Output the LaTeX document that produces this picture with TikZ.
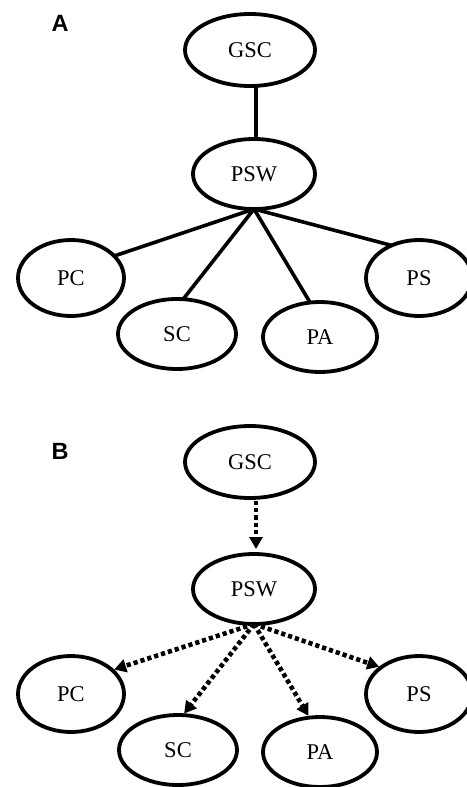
\documentclass[tikz,border=0pt]{standalone}
\usepackage{fontspec}
\setmainfont{Liberation Serif}
\newfontfamily\labfont{Liberation Sans}
\usetikzlibrary{shapes.geometric,arrows.meta}
\begin{document}
\begin{tikzpicture}[x=1pt,y=-1pt,
  ell/.style={ellipse, draw, line width=3.8pt, inner sep=0pt, outer sep=0pt, font=\fontsize{22.5}{24}\selectfont},
  panel/.style={font=\labfont\bfseries\fontsize{23.5}{26}\selectfont, inner sep=0pt},
  conn/.style={line width=3.6pt},
  dconn/.style={line width=4.6pt, dash pattern=on 4.2pt off 3pt,
     -{Triangle[length=12pt,width=13pt]}, shorten >=2pt}]
\useasboundingbox (0,0) rectangle (466,787);
% Panel A
\node[panel] (la) at (60,23) {A};
\node[ell, minimum width=130pt, minimum height=72pt] (gsc) at (250,50) {GSC};
\node[ell, minimum width=122pt, minimum height=70pt] (psw) at (254,174) {PSW};
\node[ell, minimum width=106pt, minimum height=76pt] (pc) at (71,278) {PC};
\node[ell, minimum width=118pt, minimum height=70pt] (sc) at (177,334) {SC};
\node[ell, minimum width=114pt, minimum height=70pt] (pa) at (320,337) {PA};
\node[ell, minimum width=106pt, minimum height=76pt] (ps) at (419,278) {PS};
\draw[conn] (gsc.south -| 256,0) -- (psw.north -| 256,0);
\draw[conn] (psw.south) -- (pc.27);
\draw[conn] (psw.south) -- (sc.80);
\draw[conn] (psw.south) -- (pa.106);
\draw[conn] (psw.south) -- (ps.130);
% Panel B
\node[panel] (lb) at (60,451) {B};
\node[ell, minimum width=130pt, minimum height=72pt] (gsc2) at (250,462) {GSC};
\node[ell, minimum width=122pt, minimum height=70pt] (psw2) at (254,589) {PSW};
\node[ell, minimum width=106pt, minimum height=76pt] (pc2) at (71,694) {PC};
\node[ell, minimum width=118pt, minimum height=70pt] (sc2) at (178,750) {SC};
\node[ell, minimum width=114pt, minimum height=70pt] (pa2) at (320,752) {PA};
\node[ell, minimum width=106pt, minimum height=76pt] (ps2) at (419,694) {PS};
\draw[dconn, shorten <=3pt, shorten >=5pt] (gsc2.south -| 256,0) -- (psw2.north -| 256,0);
\draw[dconn] (psw2.south) -- (pc2.30);
\draw[dconn] (psw2.south) -- (sc2.82);
\draw[dconn] (psw2.south) -- (pa2.107);
\draw[dconn] (psw2.south) -- (ps2.145);
\end{tikzpicture}
\end{document}
